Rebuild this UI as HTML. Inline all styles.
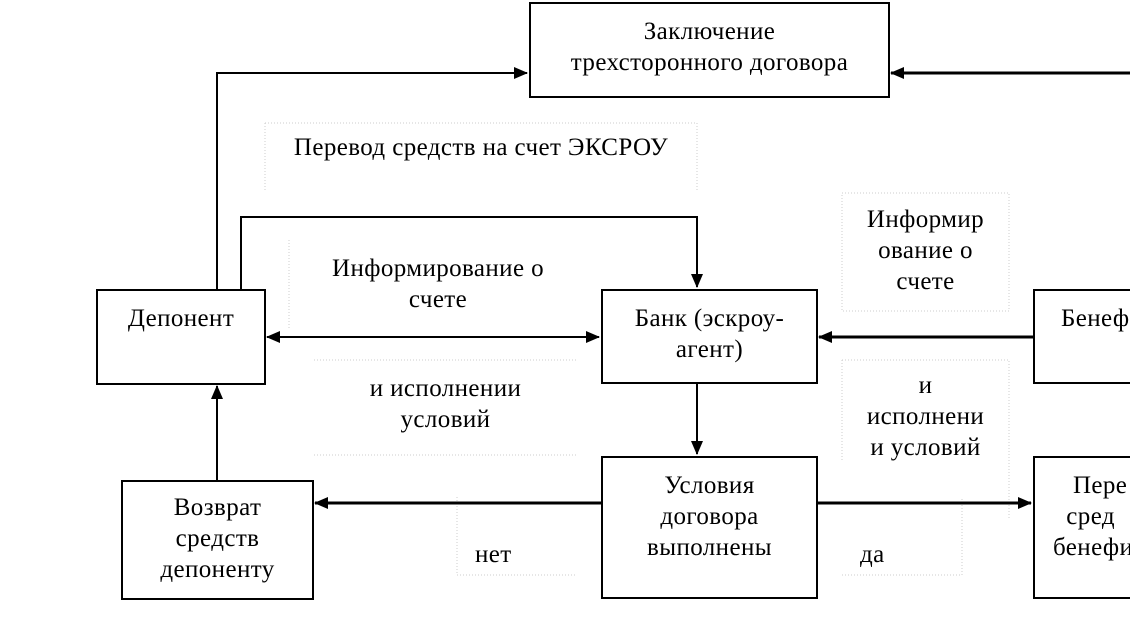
<!DOCTYPE html>
<html><head><meta charset="utf-8"><style>
html,body{margin:0;width:1130px;height:627px;overflow:hidden}
body{background:#fff;position:relative;font-family:"Liberation Serif","DejaVu Serif",serif;font-size:25px;letter-spacing:0.4px;color:#000}
.b{position:absolute;border:2px solid #000;box-sizing:border-box;text-align:center;line-height:31px;background:#fff;white-space:nowrap;overflow:hidden}
.d{position:absolute;box-sizing:border-box;text-align:center;line-height:31px;white-space:nowrap}
svg{position:absolute;left:0;top:0}
</style></head><body>
<svg width="1130" height="627">
<defs><marker id="a" markerWidth="14" markerHeight="12" refX="13" refY="6" orient="auto" markerUnits="userSpaceOnUse"><path d="M0,0 L14,6 L0,12 Z"/></marker>
<marker id="b" markerWidth="14" markerHeight="12" refX="1" refY="6" orient="auto" markerUnits="userSpaceOnUse"><path d="M14,0 L0,6 L14,12 Z"/></marker></defs>
<g fill="none" stroke="#ccc" stroke-width="1" stroke-dasharray="1,2">
<path d="M265,123 H697 V190 M265,123 V190"/>
<path d="M842,193 H1009 V311 H842 Z"/>
<path d="M289,240 V330"/>
<path d="M314,360 H577 M314,455 H577"/>
<path d="M842,360 H1009 V520 M842,360 V460"/>
<path d="M457,497 V575 H577"/>
<path d="M842,575 H962 V497"/>
</g>
<g stroke="#000" stroke-width="2" fill="none">
<path d="M217,289 V73 H527" marker-end="url(#a)"/>
<path d="M1130,73 H891" marker-end="url(#a)" stroke-width="3"/>
<path d="M241,289 V217 H697 V287" marker-end="url(#a)"/>
<path d="M267,337 H599" marker-end="url(#a)" marker-start="url(#b)"/>
<path d="M1033,337 H819" marker-end="url(#a)" stroke-width="3"/>
<path d="M697,383 V454" marker-end="url(#a)"/>
<path d="M601,503 H315" marker-end="url(#a)" stroke-width="3"/>
<path d="M817,503 H1031" marker-end="url(#a)" stroke-width="3"/>
<path d="M217,480 V386" marker-end="url(#a)"/>
</g>
</svg>
<div class="b" style="left:529px;top:2px;width:361px;height:96px;padding-top:12px">Заключение<br>трехсторонного договора</div>
<div class="b" style="left:96px;top:289px;width:170px;height:96px;padding-top:12px">Депонент</div>
<div class="b" style="left:601px;top:289px;width:217px;height:95px;padding-top:12px">Банк (эскроу-<br>агент)</div>
<div class="b" style="left:1033px;top:289px;width:97px;height:95px;padding-top:12px;text-align:left;padding-left:26px;border-right:none">Бенеф</div>
<div class="b" style="left:121px;top:480px;width:193px;height:120px;padding-top:10px">Возврат<br>средств<br>депоненту</div>
<div class="b" style="left:601px;top:456px;width:217px;height:143px;padding-top:12px">Условия<br>договора<br>выполнены</div>
<div class="b" style="left:1033px;top:456px;width:97px;height:143px;padding-top:12px;text-align:left;padding-left:18px;border-right:none">&nbsp;&nbsp;&nbsp;Пере<br>&nbsp;&nbsp;сред<br>бенефи</div>
<div class="d" style="left:265px;top:132px;width:432px">Перевод средств на счет ЭКСРОУ</div>
<div class="d" style="left:300px;top:253px;width:276px">Информирование о<br>счете</div>
<div class="d" style="left:842px;top:204px;width:167px">Информир<br>ование о<br>счете</div>
<div class="d" style="left:314px;top:373px;width:263px">и исполнении<br>условий</div>
<div class="d" style="left:842px;top:370px;width:167px">и<br>исполнени<br>и условий</div>
<div class="d" style="left:475px;top:539px;text-align:left">нет</div>
<div class="d" style="left:860px;top:539px;text-align:left">да</div>
</body></html>
